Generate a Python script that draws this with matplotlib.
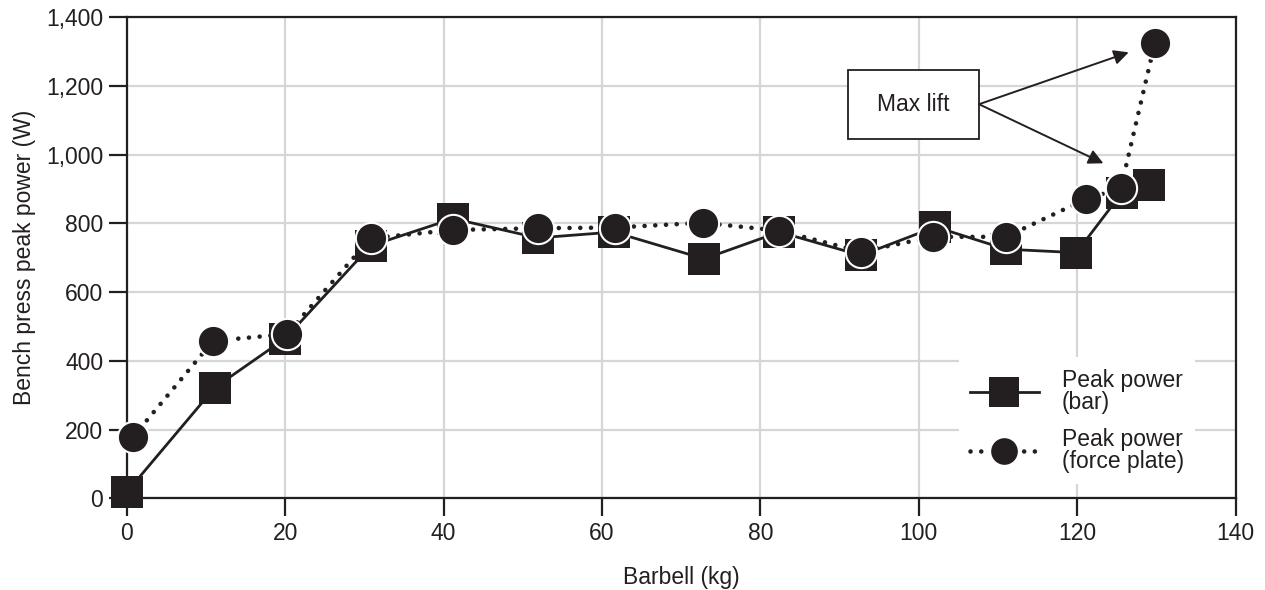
import matplotlib
matplotlib.use("Agg")
import matplotlib.pyplot as plt
from matplotlib.patches import Rectangle
from matplotlib.ticker import FuncFormatter

plt.rcParams['font.family'] = ['Liberation Sans', 'DejaVu Sans']

# Data
bar_x = [0, 11.1, 20, 30.8, 41.2, 51.9, 61.5, 72.9, 82.4, 92.7, 102.1, 111, 119.9, 125.6, 129.1]
bar_y = [18, 322, 465, 735, 814, 758, 775, 697, 775, 707, 790, 725, 715, 888, 912]
plate_x = [0.8, 10.9, 20.2, 30.8, 41.2, 51.9, 61.6, 72.7, 82.4, 92.7, 101.8, 111, 121.1, 125.5, 129.8]
plate_y = [179, 458, 478, 757, 781, 786, 788, 802, 779, 718, 761, 761, 871, 902, 1326]

x_ticks = [0, 20, 40, 60, 80, 100, 120, 140]
y_ticks = [0, 200, 400, 600, 800, 1000, 1200, 1400]

label_bar = "Peak power\n(bar)"
label_plate = "Peak power\n(force plate)"
annot_text = "Max lift"

ink = '#231f20'
grid_c = '#d6d6d6'
fs = 16.5

fig = plt.figure(figsize=(12.65, 5.9), dpi=100)
ax = fig.add_axes([0.1002, 0.1554, 0.8766, 0.8153])

ax.set_xlim(0, 140)
ax.set_ylim(0, 1400)
ax.set_xticks(x_ticks)
ax.set_yticks(y_ticks)
ax.yaxis.set_major_formatter(FuncFormatter(lambda v, p: f"{int(v):,}"))
ax.grid(True, color=grid_c, linewidth=1.6)
ax.set_axisbelow(True)
for s in ax.spines.values():
    s.set_color(ink)
    s.set_linewidth(1.6)
ax.tick_params(axis='both', direction='out', length=13, width=1.6, color=ink,
               labelsize=fs, labelcolor=ink, pad=4)

ax.plot(bar_x, bar_y, color=ink, linewidth=2.0, marker='s', markersize=23,
        markerfacecolor=ink, markeredgecolor=ink, markeredgewidth=0,
        clip_on=False, zorder=3, label=label_bar)
ax.plot(plate_x, plate_y, color=ink, linewidth=3.3, linestyle=(0, (0.01, 2.33)),
        dash_capstyle='round', marker='o', markersize=22.5,
        markerfacecolor=ink, markeredgecolor='white', markeredgewidth=1.5,
        clip_on=False, zorder=4, label=label_plate)

ax.set_xlabel("Barbell (kg)", fontsize=fs, color=ink, labelpad=15)
ax.set_ylabel("Bench press peak power (W)", fontsize=fs, color=ink, labelpad=7)

# Annotation box and arrows
ax.add_patch(Rectangle((91.1, 1046), 16.5, 200, facecolor='white', edgecolor=ink,
                       linewidth=1.3, zorder=5))
ax.text(99.35, 1146, annot_text, ha='center', va='center', fontsize=fs, color=ink, zorder=6)
for tip in [(126.5, 1298), (123.3, 975)]:
    ax.annotate("", xy=tip, xytext=(107.6, 1147),
                arrowprops=dict(arrowstyle='-|>', color=ink, lw=1.4,
                                mutation_scale=22, shrinkA=0, shrinkB=0),
                zorder=6)

leg = ax.legend(loc='lower right', bbox_to_anchor=(0.974, 0.005), fontsize=fs,
                frameon=True, facecolor='white', edgecolor='none', framealpha=1,
                fancybox=False, handlelength=3.0, handletextpad=1.0,
                labelspacing=0.62, borderpad=0.5, markerscale=0.92)
for t in leg.get_texts():
    t.set_linespacing(0.95)
    t.set_color(ink)
leg.set_zorder(7)

fig.savefig("out.png", dpi=100)
